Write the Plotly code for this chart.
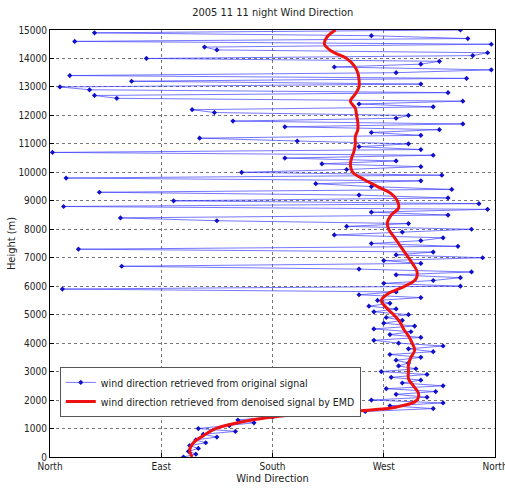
import plotly.graph_objects as go

# Heights (m) of the original retrieval, every 100 m
orig_height = list(range(0, 15001, 100))
# Wind direction (degrees, 0 = North, 90 = East ...) retrieved from original signal
orig_dir = [
    108, 118, 112, 120, 113, 126, 118, 135, 124, 150,
    120, 145, 165, 152, 180, 205, 255, 310, 275, 318,
    260, 305, 280, 312, 272, 318, 285, 300, 276, 305,
    268, 296, 282, 290, 280, 300, 275, 310, 290, 318,
    282, 262, 300, 275, 292, 262, 295, 270, 285, 272,
    290, 262, 280, 258, 275, 265, 300, 250, 280, 10,
    332, 270, 310, 332, 280, 341, 250, 58, 300, 270,
    350, 280, 310, 23, 330, 260, 300, 318, 230, 285,
    341, 240, 290, 135, 57, 322, 260, 354, 11, 347,
    100, 322, 250, 40, 325, 260, 215, 300, 13, 317,
    155, 240, 300, 220, 280, 190, 310, 2, 300, 250,
    290, 200, 121, 300, 260, 315, 190, 334, 148, 280,
    290, 133, 115, 310, 250, 334, 54, 36, 322, 32,
    8, 300, 66, 337, 16, 280, 357, 230, 300, 315,
    78, 342, 354, 135, 125, 357, 20, 338, 260, 36,
    332,
]

# Denoised (EMD) signal
emd_height = list(range(0, 15001, 250))
emd_dir = [
    115, 113, 116, 124, 134, 157, 200, 280, 297, 298,
    294, 290, 290, 290, 292, 295, 293, 290, 286, 283,
    278, 272, 268, 274, 287, 296, 297, 294, 290, 286,
    282, 278, 274, 273, 276, 282, 281, 276, 265, 254,
    245, 243, 244, 246, 247, 247, 249, 249, 248, 247,
    243, 247, 250, 250, 249, 246, 240, 228, 222, 224,
    231,
]

x_tickvals = [0, 90, 180, 270, 360]
x_ticktext = ["North", "East", "South", "West", "North"]
y_tickvals = list(range(0, 15001, 1000))
y_ticktext = [str(v) for v in y_tickvals]

font_family = "DejaVu Sans Condensed, Liberation Sans, Arial"

fig = go.Figure()
fig.add_trace(go.Scatter(
    x=orig_dir, y=orig_height, mode="lines+markers",
    name="wind direction retrieved from original signal",
    line=dict(color="rgba(60,60,255,0.7)", width=1),
    marker=dict(color="#1010c8", size=4, symbol="diamond"),
))
fig.add_trace(go.Scatter(
    x=emd_dir, y=emd_height, mode="lines",
    name="wind direction retrieved from denoised signal by EMD",
    line=dict(color="#ee1111", width=3, shape="spline"),
))

fig.update_layout(
    width=505, height=488,
    margin=dict(l=50, r=10, t=30, b=31, autoexpand=False),
    paper_bgcolor="white", plot_bgcolor="white",
    font=dict(family=font_family, size=10, color="#222"),
    title=dict(text="2005 11 11 night Wind Direction", x=0.54, xanchor="center",
               y=0.975, yanchor="middle", font=dict(size=11, color="#222")),
    showlegend=True,
    legend=dict(x=0.022, y=0.211, xanchor="left", yanchor="top",
                bgcolor="white", bordercolor="#555", borderwidth=1,
                font=dict(size=10.5, color="#222"), tracegroupgap=0,
                itemwidth=30),
    xaxis=dict(range=[0, 360], tickvals=x_tickvals, ticktext=x_ticktext,
               automargin=False, ticklabeloverflow="allow",
               showgrid=True, gridcolor="#777", griddash="dot", gridwidth=1,
               showline=True, linecolor="black", linewidth=1, mirror=True,
               ticks="inside", ticklen=4, tickcolor="black",
               title=dict(text="Wind Direction", font=dict(size=11), standoff=0),
               tickfont=dict(size=10), zeroline=False),
    yaxis=dict(range=[0, 15000], tickvals=y_tickvals, ticktext=y_ticktext,
               automargin=False,
               showgrid=True, gridcolor="#777", griddash="dot", gridwidth=1,
               showline=True, linecolor="black", linewidth=1, mirror=True,
               ticks="inside", ticklen=4, tickcolor="black",
               title=dict(text="Height (m)", font=dict(size=11), standoff=0),
               tickfont=dict(size=10), zeroline=False),
)

fig.write_html("out.html")
